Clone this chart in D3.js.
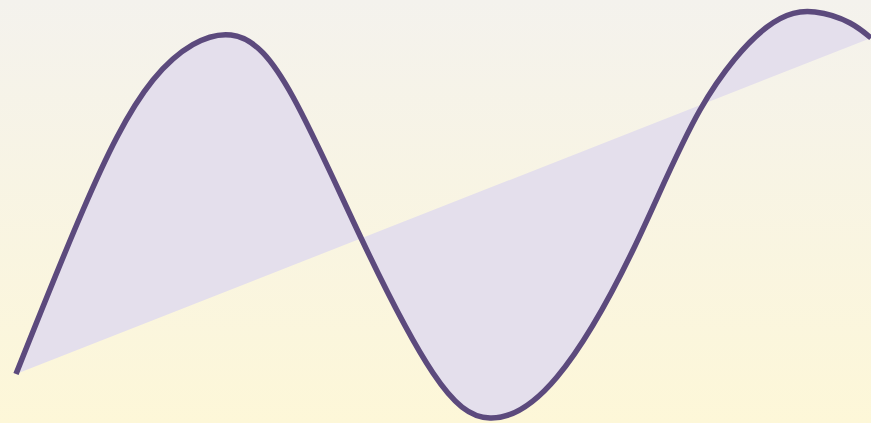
<!DOCTYPE html>
<html>
<head>
<meta charset="utf-8">
<script src="https://cdn.jsdelivr.net/npm/d3@7"></script>
<style>
  html, body { margin: 0; padding: 0; overflow: hidden; }
  svg { display: block; }
</style>
</head>
<body>
<div id="chart"></div>
<script>
// curve samples (x from left, y from bottom)
const xValues = [0, 67, 137, 215, 277, 346, 417, 474, 541, 617, 684, 751, 799, 834, 855];
const yValues = [49, 213, 343, 388, 326, 183, 50, 5, 46, 173, 313, 396, 411, 400, 385];

const width = 871;
const height = 423;

const data = xValues.map((x, i) => ({ x: x, y: yValues[i] }));

const xScale = d3.scaleLinear()
                 .domain([0, 855])
                 .range([16, 871]);

const yScale = d3.scaleLinear()
                 .domain([0, 423])
                 .range([height, 0]);

const svg = d3.select('#chart')
              .append('svg')
              .attr('width', width)
              .attr('height', height);

const grad = svg.append('defs')
                .append('linearGradient')
                .attr('id', 'bg')
                .attr('x1', 0).attr('y1', 0)
                .attr('x2', 0).attr('y2', 1);

grad.append('stop').attr('offset', '0%').attr('stop-color', '#f4f2ed');
grad.append('stop').attr('offset', '100%').attr('stop-color', '#fdf7d8');

svg.append('rect')
   .attr('width', width)
   .attr('height', height)
   .attr('fill', 'url(#bg)');

const line = d3.line()
               .x(d => xScale(d.x))
               .y(d => yScale(d.y))
               .curve(d3.curveNatural);

// fill closes straight back to the first point, stroke stays open
svg.append('path')
   .datum(data)
   .attr('d', line)
   .attr('fill', '#e4dfec')
   .attr('stroke', '#5c4a7d')
   .attr('stroke-width', 5.5)
   .attr('stroke-linejoin', 'round');
</script>
</body>
</html>
